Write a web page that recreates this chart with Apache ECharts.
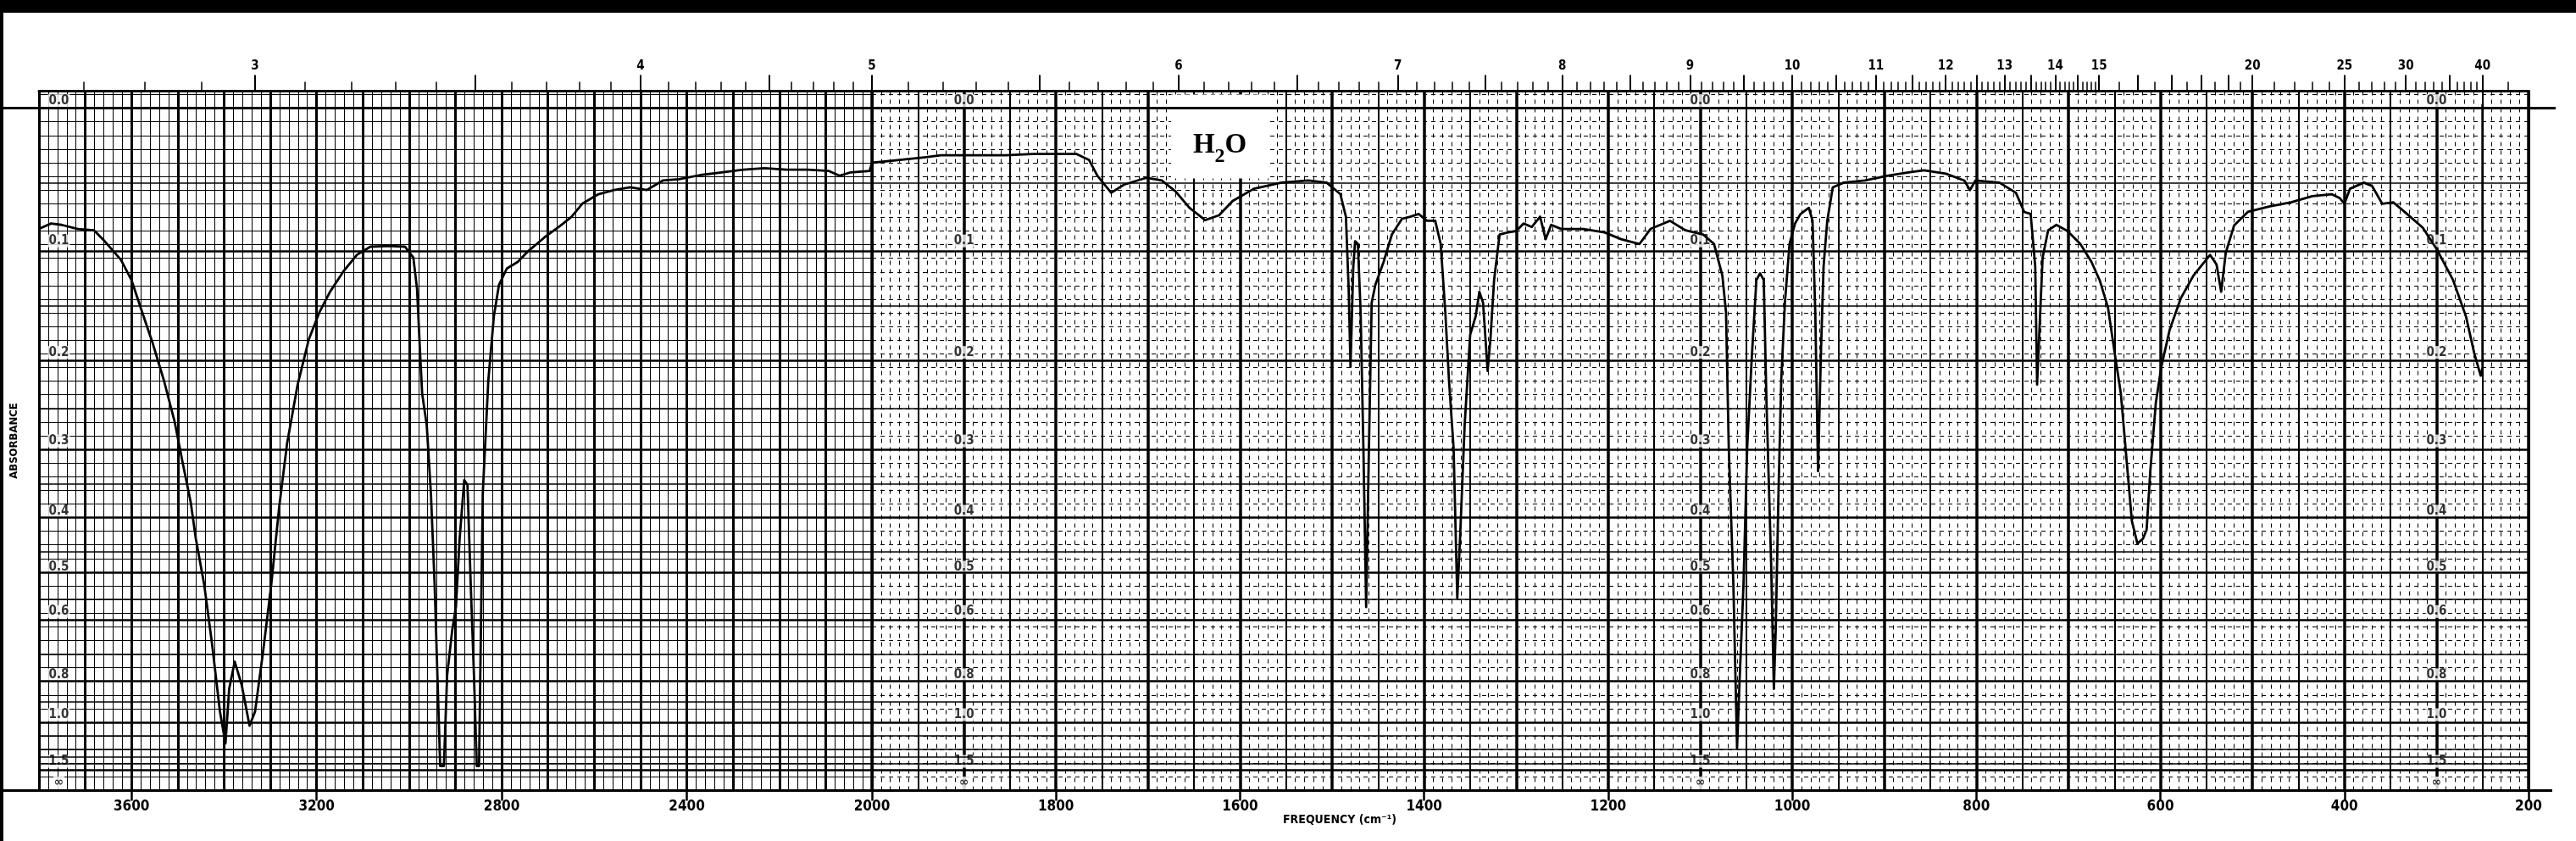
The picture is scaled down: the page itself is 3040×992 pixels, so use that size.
<!DOCTYPE html>
<html><head><meta charset="utf-8">
<script src="https://cdn.jsdelivr.net/npm/echarts@6/dist/echarts.min.js"></script>
<style>html,body{margin:0;padding:0;background:#fff}#c{width:3040px;height:992px}</style>
</head><body><div id="c"></div>
<script>
// ---- spectrum data (wavenumber cm-1, transmittance fraction) ----
const wavenumber = [
3797,3774,3751,3716,3681,3658,3623,3600,3577,3554,3530,3507,3490,3472,3461,3443,3426,3409,3397,3389,
3377,3362,3345,3333,3316,3298,3281,3264,3241,3217,3194,3171,3142,3113,3084,3044,3009,2991,2983,2976,
2972,2962,2953,2945,2939,2933,2925,2918,2907,2899,2891,2881,2874,2867,2860,2854,2849,2841,2829,2817,
2806,2789,2765,2742,2707,2673,2649,2626,2591,2557,2522,2487,2452,2417,2371,2325,2278,2232,2185,2139,
2093,2070,2046,2005,2000,1972,1943,1925,1896,1855,1825,1778,1764,1755,1740,1726,1702,1685,1670,1655,
1638,1623,1608,1585,1555,1526,1506,1491,1485,1482,1480,1477,1475,1472,1469,1466,1463,1460,1457,1453,
1444,1435,1424,1415,1406,1397,1388,1382,1377,1373,1368,1364,1361,1356,1350,1344,1340,1336,1331,1328,
1324,1318,1309,1300,1292,1283,1274,1268,1262,1251,1227,1204,1186,1166,1154,1133,1116,1097,1085,1076,
1072,1069,1064,1060,1057,1053,1049,1044,1039,1035,1031,1028,1023,1020,1018,1015,1012,1008,1003,997,
991,982,978,975,972,969,966,962,956,944,921,897,874,857,833,813,807,801,775,757,
748,741,736,734,731,728,722,713,701,687,675,666,657,649,643,637,631,625,619,615,
611,605,599,590,578,564,546,539,534,529,520,505,482,458,435,414,405,400,394,379,
370,359,347,332,315,300,282,268,259,252,250,250
];
const transmittance = [
.824,.831,.829,.823,.821,.805,.778,.748,.701,.655,.601,.541,.482,.422,.369,.302,.215,.116,.069,.149,
.189,.155,.095,.116,.202,.302,.415,.508,.595,.661,.701,.731,.761,.785,.797,.798,.797,.781,.735,.635,
.582,.535,.435,.302,.169,.036,.036,.169,.235,.269,.369,.455,.448,.302,.169,.036,.036,.435,.601,.695,
.741,.765,.775,.791,.811,.828,.841,.860,.874,.880,.884,.880,.894,.896,.902,.906,.910,.912,.910,.910,
.908,.901,.906,.908,.920,.924,.928,.931,.931,.931,.933,.933,.924,.901,.876,.888,.898,.894,.878,.854,
.836,.843,.864,.882,.891,.894,.891,.874,.841,.735,.621,.768,.805,.801,.701,.502,.269,.502,.715,.741,
.775,.815,.838,.841,.845,.835,.835,.801,.701,.601,.502,.282,.369,.535,.668,.695,.731,.715,.615,.661,
.748,.815,.818,.820,.831,.826,.841,.808,.829,.823,.823,.818,.808,.801,.823,.835,.821,.815,.801,.755,
.701,.502,.302,.062,.169,.302,.502,.635,.748,.758,.748,.568,.335,.149,.235,.435,.601,.715,.801,.831,
.845,.854,.835,.701,.468,.635,.768,.835,.884,.891,.894,.901,.906,.909,.904,.894,.880,.894,.891,.876,
.848,.845,.768,.595,.688,.781,.821,.829,.820,.801,.775,.748,.708,.635,.582,.488,.395,.362,.369,.382,
.468,.568,.621,.675,.721,.755,.785,.771,.731,.788,.828,.848,.856,.862,.871,.874,.868,.860,.882,.891,
.886,.860,.862,.845,.825,.794,.748,.695,.641,.608,.62,1.005
];
// ---- axis / scale labels ----
const micronLabels = [3,4,5,6,7,8,9,10,11,12,13,14,15,20,25,30,40];
const micronLongTicks = [3.5,4.5,5.5,6.5,7.5,8.5,9.5,10.5,11.5,12.5,13.5,14.5,16,17,18,19,35];
const micronShortWide = [15.5,16.5,17.5,18.5,19.5,21,22,23,24,26,27,28,29,31,32,33,34,36,37,38,39,45];
const absorbanceLabels = ['0.0','0.1','0.2','0.3','0.4','0.5','0.6','0.8','1.0','1.5','\u221e'];
const absorbanceValues = [0,0.1,0.2,0.3,0.4,0.5,0.6,0.8,1.0,1.5,Infinity];
const absorbanceMinor = [0.05,0.15,0.25,0.35,0.45,0.55,0.7,0.9,1.1,1.2,1.3,1.4];
const labelColumnsHigh = [3757];
const labelColumnsLow = [1900,1100,300];
const h2oBox = {from:[1675,1.02], to:[1569,0.897]};

// ---- derived ----
const COND = '"DejaVu Sans Condensed","Liberation Sans Narrow","DejaVu Sans",sans-serif';
const toT = a => (a === Infinity ? 0 : Math.pow(10, -a));
const micronShort = [];
for (let k = 27; k <= 150; k++) { if (k % 5 !== 0) micronShort.push(k / 10); }
micronShortWide.forEach(v => micronShort.push(v));
const nu = l => 10000 / l;
const hi = arr => arr.filter(l => l < 5).map(nu);
const lo = arr => arr.filter(l => l >= 5).map(nu);
const longAll = micronLabels.concat(micronLongTicks);

const pts = wavenumber.map((w, i) => [w, transmittance[i]]);
const ptsHigh = [], ptsLow = [];
pts.forEach((p, i) => {
  if (p[0] >= 2000 || (i > 0 && pts[i-1][0] > 2000)) ptsHigh.push(p);
  if (p[0] <= 2000 || (i + 1 < pts.length && pts[i+1][0] < 2000)) ptsLow.push(p);
});

const absLines = absorbanceValues.filter(v => v !== Infinity).map(a => ({yAxis: toT(a), lineStyle:{color:'#000', width: a === 0 ? 3 : 2.6, type:'solid'}}))
  .concat(absorbanceMinor.map(a => ({yAxis: toT(a), lineStyle:{color:'#000', width:1.5, type:'solid'}})));

const labelData = cols => {
  const d = [];
  cols.forEach(c => absorbanceLabels.forEach((t, i) => d.push({name: t, value: [c, toT(absorbanceValues[i])]})));
  return d;
};

const fmtMicron = v => String(Math.round(10000 / v));
const gridAxisBase = (grid, min, max) => ({gridIndex: grid, type:'value', min, max, inverse:true,
  axisLine:{show:false, onZero:false}, axisTick:{show:false}, axisLabel:{show:false}, splitLine:{show:false}});

function xAxesFor(grid, min, max, labelInterval, minorInt, minorType, majors, longT, shortT, labels) {
  const axes = [];
  axes.push(Object.assign(gridAxisBase(grid, min, max), {
    position:'bottom', interval: labelInterval,
    axisLine:{show:true, onZero:false, lineStyle:{color:'#000', width:3}},
    axisTick:{show:true, length:12, lineStyle:{color:'#000', width:2.5}},
    axisLabel:{show:true, margin:11, fontSize:17, fontWeight:'bold', fontFamily:COND, color:'#000',
      formatter: v => String(Math.round(v)),
      showMinLabel: grid === 1, showMaxLabel: grid === 1}
  }));
  axes.push(Object.assign(gridAxisBase(grid, min, max), {position:'bottom', interval: minorInt,
    splitLine:{show:true, lineStyle:{color:'#000', width:1, type:minorType}}}));
  majors.forEach(m => axes.push(Object.assign(gridAxisBase(grid, min, max), {position:'bottom', interval: m[0],
    splitLine:{show:true, lineStyle:{color:'#000', width:m[1], type:'solid'}}})));
  axes.push(Object.assign(gridAxisBase(grid, min, max), {position:'top',
    axisLine:{show:true, onZero:false, lineStyle:{color:'#000', width:3}},
    axisTick:{show:true, length:19, customValues: longT, lineStyle:{color:'#000', width:2}},
    axisLabel:{show:true, customValues: labels, formatter: fmtMicron, margin:22, fontSize:15, fontWeight:'bold', fontFamily:COND, color:'#000'}
  }));
  axes.push(Object.assign(gridAxisBase(grid, min, max), {position:'top',
    axisTick:{show:true, length:11, customValues: shortT, lineStyle:{color:'#000', width:1.5}}}));
  return axes;
}

const xA = xAxesFor(0, 2000, 3800, 400, 20, 'solid', [[100, 3]], hi(longAll), hi(micronShort), hi(micronLabels));
const xB = xAxesFor(1, 200, 2000, 200, 10, [5, 5], [[50, 2], [100, 3.5]], lo(longAll), lo(micronShort), lo(micronLabels));
const xAxes = xA.concat(xB);
const xBStart = xA.length;

const yAxisBase = (grid, pos, splitType) => ({gridIndex: grid, type:'value', min:0, max:1.025, interval:0.02, position: pos,
  axisLine:{show:true, onZero:false, lineStyle:{color:'#000', width:3}}, axisTick:{show:false}, axisLabel:{show:false},
  splitLine:{show:true, lineStyle:{color:'#000', width:1, type: splitType}}});
const yA = Object.assign(yAxisBase(0, 'left', 'solid'), {name:'ABSORBANCE', nameLocation:'middle', nameGap:23, nameRotate:90,
  nameTextStyle:{fontSize:13, fontWeight:'bold', fontFamily:COND, color:'#000'}});
const yB = yAxisBase(1, 'right', [5, 5]);

const labelSeries = (xi, yi, cols) => ({type:'scatter', xAxisIndex: xi, yAxisIndex: yi, z:3, symbolSize:1,
  itemStyle:{color:'rgba(0,0,0,0)'}, silent:true, data: labelData(cols),
  label:{show:true, position:'top', distance:1, formatter:'{b}', color:'#000', fontSize:15, fontWeight:'bold', fontFamily:COND,
    backgroundColor:'#fff', padding:[0,1,0,1]}});

const lineHelper = (xi, yi) => ({type:'line', xAxisIndex: xi, yAxisIndex: yi, data:[], z:1, silent:true,
  markLine:{silent:true, symbol:['none','none'], label:{show:false}, animation:false, data: absLines}});

const spectrum = (xi, yi, d) => ({type:'line', xAxisIndex: xi, yAxisIndex: yi, z:5, data: d, symbol:'none', showSymbol:false,
  silent:true, lineStyle:{color:'#000', width:2.8, cap:'round', join:'round'}});

const option = {
  backgroundColor:'#fff', animation:false,
  textStyle:{fontFamily:COND},
  title:{text:'FREQUENCY (cm\u207b\u00b9)', left:1509, top:955, textStyle:{fontSize:14, fontWeight:'bold', fontFamily:COND, color:'#000'}},
  grid:[
    {left:46, top:107.5, width:983, height:825, containLabel:false},
    {left:1029, top:107.5, width:1955, height:825, containLabel:false}
  ],
  xAxis: xAxes,
  yAxis: [yA, yB],
  series:[
    lineHelper(0, 0),
    lineHelper(xBStart, 1),
    {type:'line', xAxisIndex:xBStart, yAxisIndex:1, data:[], z:2, silent:true,
      markArea:{silent:true, itemStyle:{color:'#fff'},
        label:{show:true, position:'inside', offset:[0,10], formatter:'{m|H}{s|2}{m|O}',
          rich:{m:{fontSize:33, lineHeight:33, fontWeight:'bold', fontFamily:'"Liberation Serif","DejaVu Serif",serif', color:'#000', verticalAlign:'top'},
                s:{fontSize:24, lineHeight:24, fontWeight:'bold', fontFamily:'"Liberation Serif","DejaVu Serif",serif', color:'#000', verticalAlign:'top', padding:[18,0,0,0]}}},
        data:[[{xAxis:h2oBox.from[0], yAxis:h2oBox.from[1]}, {xAxis:h2oBox.to[0], yAxis:h2oBox.to[1]}]]}},
    labelSeries(0, 0, labelColumnsHigh),
    labelSeries(xBStart, 1, labelColumnsLow),
    spectrum(0, 0, ptsHigh),
    spectrum(xBStart, 1, ptsLow)
  ]
};

const chart = echarts.init(document.getElementById('c'));
chart.setOption(option);
const yZero = chart.convertToPixel({yAxisIndex:0}, 1);
const yInf = chart.convertToPixel({yAxisIndex:0}, 0);
const xLeft = chart.convertToPixel({xAxisIndex:0}, 3800);
const xRight = chart.convertToPixel({xAxisIndex:xBStart}, 200);
chart.setOption({graphic:[
  {type:'rect', shape:{x:0, y:0, width:3040, height:15}, style:{fill:'#000'}, silent:true},
  {type:'rect', shape:{x:0, y:0, width:4, height:992}, style:{fill:'#000'}, silent:true},
  {type:'line', shape:{x1:0, y1:yZero, x2:xLeft, y2:yZero}, style:{stroke:'#000', lineWidth:3}, silent:true},
  {type:'line', shape:{x1:xRight, y1:yZero, x2:xRight + 32, y2:yZero}, style:{stroke:'#000', lineWidth:3}, silent:true},
  {type:'line', shape:{x1:0, y1:yInf, x2:xLeft, y2:yInf}, style:{stroke:'#000', lineWidth:3}, silent:true},
  {type:'line', shape:{x1:xRight, y1:yInf, x2:xRight + 28, y2:yInf}, style:{stroke:'#000', lineWidth:3}, silent:true}
]});
</script></body></html>
